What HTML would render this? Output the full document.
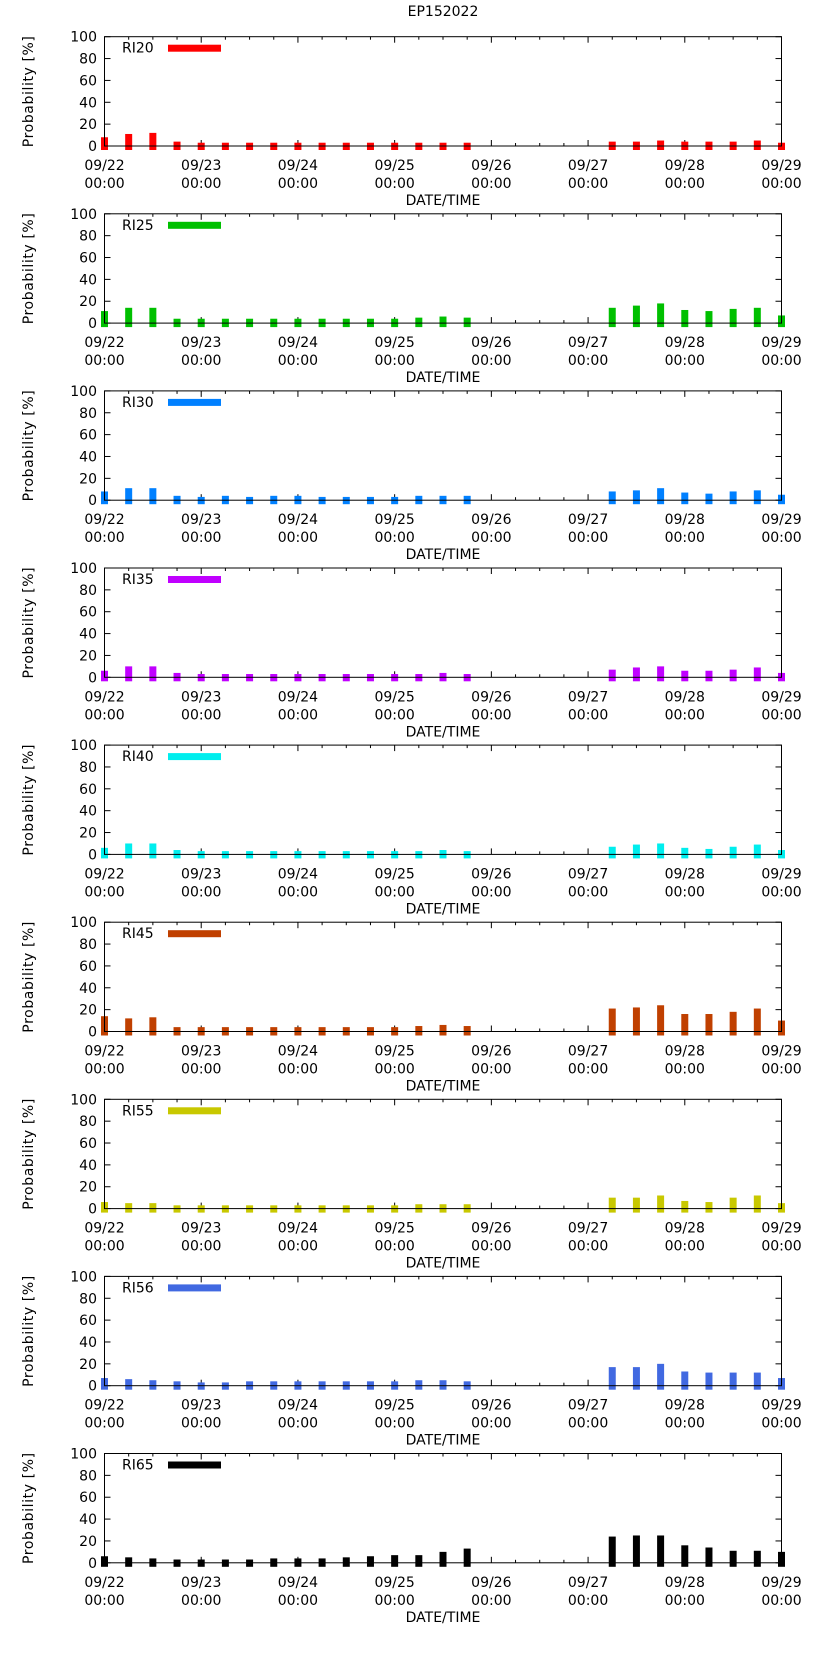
<!DOCTYPE html>
<html><head><meta charset="utf-8"><style>
html,body{margin:0;padding:0;background:#fff}
svg{display:block;font-family:"DejaVu Sans","Liberation Sans",sans-serif}
</style></head><body>
<svg id="c" width="822" height="1653" viewBox="0 0 822 1653">
<text x="443" y="16" font-size="14" text-anchor="middle">EP152022</text>
</svg>
<script>
const series = ["RI20","RI25","RI30","RI35","RI40","RI45","RI55","RI56","RI65"];
const colors = ["#ff0000","#00c000","#0080ff","#c000ff","#00eeee","#c04000","#c8c800","#4169e1","#000000"];
const hours = [0,6,12,18,24,30,36,42,48,54,60,66,72,78,84,90,126,132,138,144,150,156,162,168];
const ri20 = [8,11,12,4,3,3,3,3,3,3,3,3,3,3,3,3, 4,4,5,4,4,4,5,3];
const ri25 = [11,14,14,4,4,4,4,4,4,4,4,4,4,5,6,5, 14,16,18,12,11,13,14,7];
const ri30 = [8,11,11,4,3,4,3,4,4,3,3,3,3,4,4,4, 8,9,11,7,6,8,9,5];
const ri35 = [6,10,10,4,3,3,3,3,3,3,3,3,3,3,4,3, 7,9,10,6,6,7,9,4];
const ri40 = [6,10,10,4,3,3,3,3,3,3,3,3,3,3,4,3, 7,9,10,6,5,7,9,4];
const ri45 = [14,12,13,4,4,4,4,4,4,4,4,4,4,5,6,5, 21,22,24,16,16,18,21,10];
const ri55 = [6,5,5,3,3,3,3,3,3,3,3,3,3,4,4,4, 10,10,12,7,6,10,12,5];
const ri56 = [7,6,5,4,3,3,4,4,4,4,4,4,4,5,5,4, 17,17,20,13,12,12,12,7];
const ri65 = [6,5,4,3,3,3,3,4,4,4,5,6,7,7,10,13, 24,25,25,16,14,11,11,10];
const values = [ri20,ri25,ri30,ri35,ri40,ri45,ri55,ri56,ri65];
const dayLabels = ["09/22","09/23","09/24","09/25","09/26","09/27","09/28","09/29"];
const yTicks = [0,20,40,60,80,100];

const svg = document.getElementById('c');
const NS = "http://www.w3.org/2000/svg";
const L = 104.5, R = 781.5, PH = 109.3, TOP0 = 36.7, STEP = 177.1;
function mk(tag, attrs, parent) {
  const e = document.createElementNS(NS, tag);
  for (const k in attrs) e.setAttribute(k, attrs[k]);
  (parent || svg).appendChild(e);
  return e;
}
const xs = h => L + (R - L) * h / 168;

series.forEach((name, i) => {
  const top = TOP0 + i * STEP, bot = top + PH;
  const ys = v => bot - PH * v / 100;
  const g = mk('g', {});
  
  
  for (let h = 0; h <= 168; h += 6) {
    const len = h % 24 === 0 ? 6 : 3;
    const x = xs(h);
    mk('line', {x1:x, x2:x, y1:bot, y2:bot-len, stroke:'#000', 'stroke-width':1}, g);
    mk('line', {x1:x, x2:x, y1:top, y2:top+len, stroke:'#000', 'stroke-width':1}, g);
  }
  yTicks.forEach(v => {
    const y = ys(v);
    mk('line', {x1:L, x2:L+6, y1:y, y2:y, stroke:'#000'}, g);
    mk('line', {x1:R, x2:R-6, y1:y, y2:y, stroke:'#000'}, g);
    const t = mk('text', {x:97, y:y+5, 'font-size':14, 'text-anchor':'end'}, g);
    t.textContent = v;
    
    
  });
  dayLabels.forEach((d, k) => {
    const x = xs(k * 24);
    const t1 = mk('text', {x:x, y:bot+24, 'font-size':14, 'text-anchor':'middle'}, g);
    t1.textContent = d;
    
    
    const t2 = mk('text', {x:x, y:bot+42, 'font-size':14, 'text-anchor':'middle'}, g);
    t2.textContent = "00:00";
    
    
  });
  const xt = mk('text', {x:(L+R)/2, y:bot+59, 'font-size':14, 'text-anchor':'middle'}, g);
  xt.textContent = "DATE/TIME";
  
  
  const cy = (top + bot) / 2;
  const yt = mk('text', {x:0, y:0, 'font-size':14, 'letter-spacing':'0.6', 'text-anchor':'middle', transform:`translate(33,${cy}) rotate(-90)`}, g);
  yt.textContent = "Probability [%]";
  
  
  values[i].forEach((v, k) => {
    const x = xs(hours[k]);
    const r = mk('rect', {x:x-3.5, y:ys(v), width:7, height:bot - ys(v) + 4, fill:colors[i]}, g);
    
    
  });
  mk('rect', {x:L, y:top, width:R-L, height:PH, fill:'none', stroke:'#000', 'stroke-width':1}, g);
  const lt = mk('text', {x:122, y:top+16, 'font-size':14}, g);
  lt.textContent = name;
  
  
  const ls = mk('rect', {x:168, y:top+8, width:53, height:7, fill:colors[i]}, g);
  
  
});
</script>
</body></html>
